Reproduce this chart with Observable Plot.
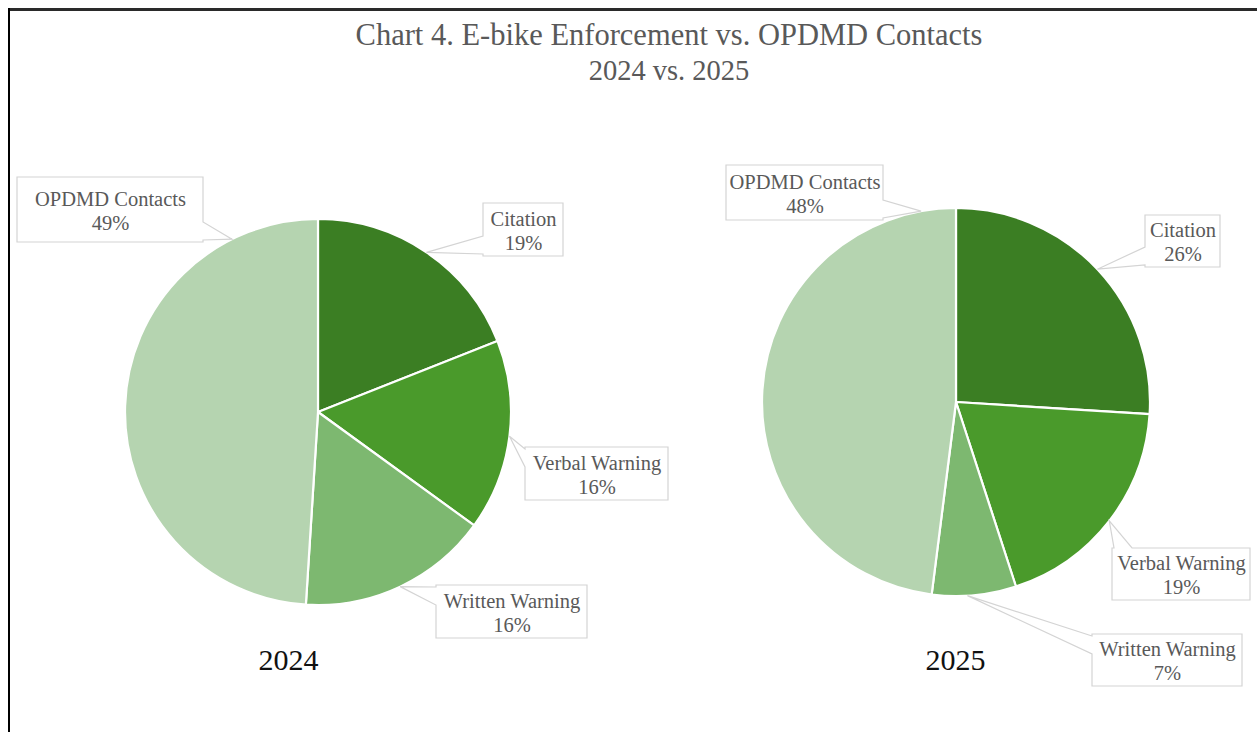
<!DOCTYPE html>
<html>
<head>
<meta charset="utf-8">
<script src="https://cdn.jsdelivr.net/npm/d3@7"></script>
<script src="https://cdn.jsdelivr.net/npm/@observablehq/plot@0.6"></script>
<style>
  html, body { margin: 0; padding: 0; background: #fff; }
  #wrap { position: relative; width: 1257px; height: 732px; overflow: hidden; background: #fff; }
  #title { position: absolute; top: 17px; left: 44px; width: 1250px; text-align: center;
           font-family: "Liberation Serif", "DejaVu Serif", serif; color: #595959; }
  #title div { line-height: 36px; height: 36px; }
  #title .l1 { font-size: 30.5px; }
  #title .l2 { font-size: 28.5px; }
  #chart { position: absolute; top: 95px; left: 0; }
  .bt { position: absolute; top: 8px; left: 8px; right: 0; height: 3px; background: #2a2a2a; z-index: 5; }
  .bl { position: absolute; top: 8px; left: 8px; bottom: 0; width: 2px; background: #000; z-index: 5; }
</style>
</head>
<body>
<div id="wrap">
  <div class="bt"></div>
  <div class="bl"></div>
  <div id="title"><div class="l1">Chart 4. E-bike Enforcement vs. OPDMD Contacts</div><div class="l2">2024 vs. 2025</div></div>
  <div id="chart"></div>
</div>
<script>
// ---- data ----
const categories = ["Citation", "Verbal Warning", "Written Warning", "OPDMD Contacts"];
const years = ["2024", "2025"];
const values2024 = [19, 16, 16, 49];
const values2025 = [26, 19, 7, 48];
const sliceColors = ["#3b7e23", "#4a9a2b", "#7db870", "#b5d4b0"];

// ---- layout (page pixel units, mapped through the plot's x/y scales) ----
const pieCenters = [[318, 412], [956, 402]];
const pieRadii = [193, 194];
const yearLabelPos = [[288, 660], [955, 660]];
// label boxes [x1, x2, y1, y2] per year, in category order
const labelBoxes2024 = [[483, 563, 203, 256], [525, 668, 447, 500], [436, 587, 585, 638], [17, 203, 177, 242]];
const labelBoxes2025 = [[1145, 1220, 215, 267], [1112, 1250, 548, 600], [1092, 1242, 634, 686], [726, 883, 165, 220]];
// where along each slice the callout pointer touches (fraction of slice angle)
const tipFrac2024 = [0.5, 0.5, 0.5, 0.85];
const tipFrac2025 = [0.5, 0.5, 0.58, 0.94];

const valuesByYear = [values2024, values2025];
const boxesByYear = [labelBoxes2024, labelBoxes2025];
const tipsByYear = [tipFrac2024, tipFrac2025];

const pieGen = d3.pie().sort(null).value(d => d.value).startAngle(0).endAngle(2 * Math.PI);

const slices = [];
const labels = [];
years.forEach((yr, yi) => {
  const rows = categories.map((c, ci) => ({year: yr, category: c, value: valuesByYear[yi][ci], ci}));
  pieGen(rows).forEach(a => {
    const [cx, cy] = pieCenters[yi];
    const r = pieRadii[yi];
    slices.push({yi, cx, cy, r, startAngle: a.startAngle, endAngle: a.endAngle, color: sliceColors[a.data.ci]});
    const f = tipsByYear[yi][a.data.ci];
    const ang = a.startAngle + f * (a.endAngle - a.startAngle);
    const [x1, x2, y1, y2] = boxesByYear[yi][a.data.ci];
    labels.push({
      x1, x2, y1, y2,
      xc: (x1 + x2) / 2, yc: (y1 + y2) / 2,
      tx: cx + r * Math.sin(ang), ty: cy - r * Math.cos(ang),
      text: `${a.data.category}\n${a.data.value}%`
    });
  });
});

const yearLabels = years.map((y, i) => ({year: y, x: yearLabelPos[i][0], y: yearLabelPos[i][1]}));

function pieMark(index, scales) {
  const g = d3.create("svg:g");
  for (const s of slices) {
    const px = scales.x(s.cx), py = scales.y(s.cy);
    const rp = scales.x(s.cx + s.r) - scales.x(s.cx);
    const arc = d3.arc().innerRadius(0).outerRadius(rp);
    g.append("path")
      .attr("transform", `translate(${px},${py})`)
      .attr("d", arc({startAngle: s.startAngle, endAngle: s.endAngle}))
      .attr("fill", s.color)
      .attr("stroke", "#ffffff")
      .attr("stroke-width", 2.2)
      .attr("stroke-linejoin", "round");
  }
  return g.node();
}

function calloutPath(x1, y1, x2, y2, tx, ty, w) {
  const dL = x1 - tx, dR = tx - x2, dT = y1 - ty, dB = ty - y2;
  const m = Math.max(dL, dR, dT, dB);
  const side = m === dR ? "right" : m === dL ? "left" : m === dB ? "bottom" : "top";
  const cl = (v, a, b) => Math.max(a, Math.min(b, v));
  const pts = [[x1, y1]];
  if (side === "top") { const c = cl(tx, x1 + w / 2 + 2, x2 - w / 2 - 2); pts.push([c - w / 2, y1], [tx, ty], [c + w / 2, y1]); }
  pts.push([x2, y1]);
  if (side === "right") { const c = cl(ty, y1 + w / 2 + 2, y2 - w / 2 - 2); pts.push([x2, c - w / 2], [tx, ty], [x2, c + w / 2]); }
  pts.push([x2, y2]);
  if (side === "bottom") { const c = cl(tx, x1 + w / 2 + 2, x2 - w / 2 - 2); pts.push([c + w / 2, y2], [tx, ty], [c - w / 2, y2]); }
  pts.push([x1, y2]);
  if (side === "left") { const c = cl(ty, y1 + w / 2 + 2, y2 - w / 2 - 2); pts.push([x1, c + w / 2], [tx, ty], [x1, c - w / 2]); }
  return "M" + pts.map(p => p.join(",")).join("L") + "Z";
}

function calloutMark(index, scales) {
  const g = d3.create("svg:g");
  for (const l of labels) {
    const x1 = scales.x(l.x1), x2 = scales.x(l.x2), y1 = scales.y(l.y1), y2 = scales.y(l.y2);
    const tx = scales.x(l.tx), ty = scales.y(l.ty);
    g.append("path")
      .attr("d", calloutPath(x1, y1, x2, y2, tx, ty, 18))
      .attr("fill", "#ffffff")
      .attr("stroke", "#d4d4d4")
      .attr("stroke-width", 1.2)
      .attr("stroke-linejoin", "miter");
  }
  return g.node();
}

const chart = Plot.plot({
  width: 1257,
  height: 637,
  margin: 0,
  style: {background: "transparent", fontFamily: "Liberation Serif, DejaVu Serif, serif"},
  x: {domain: [0, 1257], range: [0, 1257], axis: null},
  y: {domain: [95, 732], range: [0, 637], axis: null},
  marks: [
    pieMark,
    calloutMark,
    Plot.text(labels, {
      x: "xc", y: "yc", text: "text",
      fontSize: 20.5, fill: "#595959", lineHeight: 1.17,
      fontFamily: "Liberation Serif, DejaVu Serif, serif"
    }),
    Plot.text(yearLabels, {
      x: "x", y: "y", text: "year",
      fontSize: 30, fill: "#111111",
      fontFamily: "Liberation Serif, DejaVu Serif, serif"
    })
  ]
});
document.getElementById("chart").appendChild(chart);
</script>
</body>
</html>
